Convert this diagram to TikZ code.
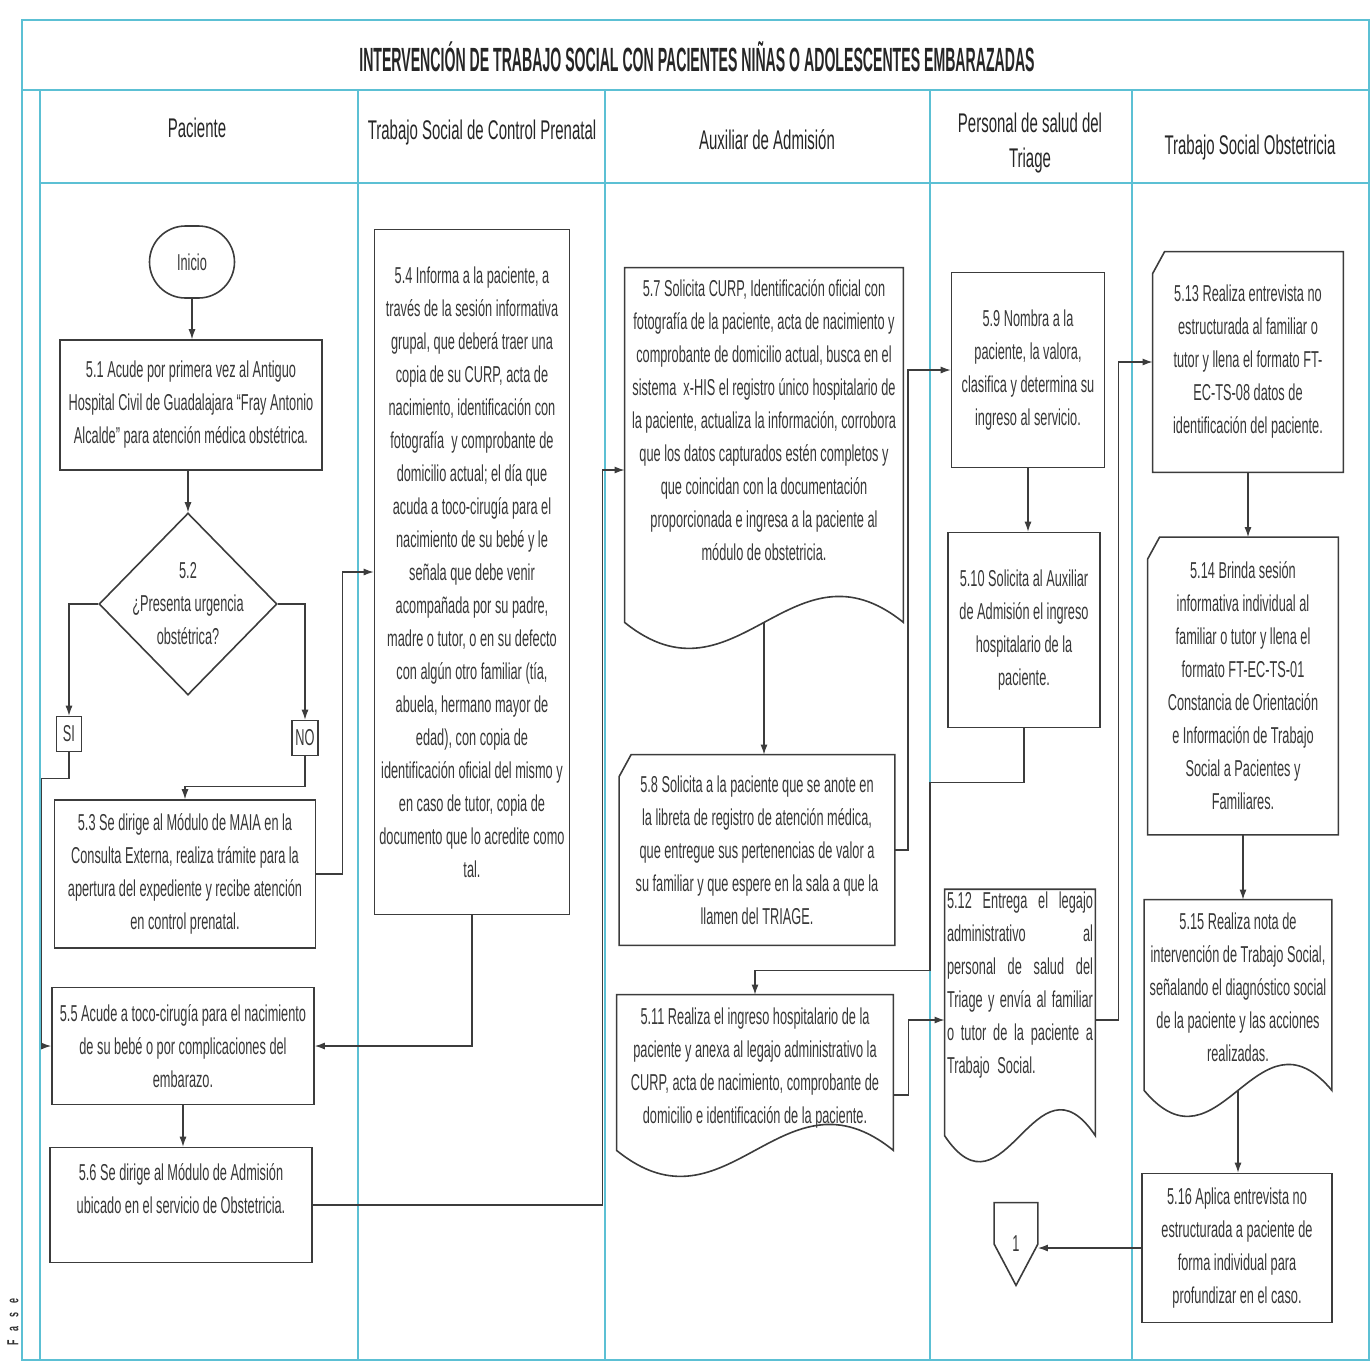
\documentclass[tikz,border=0pt]{standalone}
\usepackage{fontspec}
\setmainfont{Liberation Sans}[FakeStretch=0.555]
\newfontfamily\titlefont{Liberation Sans}[FakeStretch=0.42]
\usetikzlibrary{shapes.geometric,arrows.meta,calc}
\definecolor{lanecol}{RGB}{92,192,212}
\definecolor{linecol}{RGB}{60,60,60}
\definecolor{txtcol}{RGB}{55,55,55}
\newcommand{\bodyfont}{\fontsize{11.5pt}{16.5pt}\selectfont}
\newcommand{\headfont}{\fontsize{13.5pt}{17.5pt}\selectfont}
% document box: straight sides dropped by #2, wavy bottom, (#1-b) = middle of the wave
\newcommand{\docshape}[2]{%
 \draw[boxline] (#1.north west) -- (#1.north east) -- ([yshift=-#2]#1.south east)
  .. controls ($(#1.south west)!.6!(#1.south east)+(0pt,{45pt-#2})$)
  and ($(#1.south west)!.4!(#1.south east)+(0pt,{-45pt-#2})$)
  .. ([yshift=-#2]#1.south west) -- cycle;
 \coordinate (#1-b) at ([yshift=-#2]#1.south);}
% manual input box: cut top left corner
\newcommand{\manualshape}[1]{%
 \draw[boxline] ([yshift=-11pt]#1.north west) -- ([xshift=6pt]#1.north west)
  -- (#1.north east) -- (#1.south east) -- (#1.south west) -- cycle;}
\newcommand{\jline}[1]{\leavevmode\hbox to 73pt{#1}}

\begin{document}
\begin{tikzpicture}[x=0.5pt,y=-0.5pt,
 txt/.style={font=\bodyfont,text=txtcol,align=center,inner sep=1pt},
 box/.style={txt,draw=linecol,line width=0.8pt},
 boxline/.style={draw=linecol,line width=0.8pt},
 flow/.style={draw=linecol,line width=0.6pt,-{Latex[length=5pt,width=3.5pt]}},
 lane/.style={draw=lanecol,line width=1pt},
 head/.style={font=\headfont,text=black!85,align=center}]
 \useasboundingbox (0,0) rectangle (1372,1372);
 % frame and lanes
 \draw[lane] (22,20) rectangle (1369,1360);
 \draw[lane] (22,90) -- (1369,90);
 \draw[lane] (40,183) -- (1369,183);
 \foreach \x in {40,358,605,930,1132} \draw[lane] (\x,90) -- (\x,1360);
 \node[font={\titlefont\bfseries\fontsize{16.8pt}{18pt}\selectfont},text=black!85] (title) at (697,57)
  {INTERVENCIÓN DE TRABAJO SOCIAL CON PACIENTES NIÑAS O ADOLESCENTES EMBARAZADAS};
 \node[head] (hpac) at (197,128) {Paciente};
 \node[head] (hcpn) at (482,133) {Trabajo Social de Control Prenatal};
 \node[head] (hadm) at (767,140) {Auxiliar de Admisión};
 \node[head] (htri) at (1030,143) {Personal de salud del\\Triage};
 \node[head] (hobs) at (1250,148) {Trabajo Social Obstetricia};
 \node[font={\bfseries\fontsize{8pt}{9pt}\selectfont},text=black!80,rotate=90] (fase) at (13,1322)
  {F\hspace{4.5pt}a\hspace{4.5pt}s\hspace{4.5pt}e};
 % Paciente
 \node[box,rounded corners=18pt,minimum width=42.5pt,minimum height=36pt] (inicio) at (192,262) {Inicio};
 \node[box,minimum width=131pt,minimum height=65pt] (s51) at (191,405)
  {5.1 Acude por primera vez al Antiguo\\Hospital Civil de Guadalajara “Fray Antonio\\Alcalde” para atención médica obstétrica.};
 \node[boxline,shape=diamond,minimum width=89pt,minimum height=91pt,inner sep=0pt,
  label={[txt]center:{5.2\\¿Presenta urgencia\\obstétrica?}}] (s52) at (188,604) {};
 \node[box,minimum width=12.5pt,minimum height=17.5pt,inner sep=0pt] (si) at (69,734) {SI};
 \node[box,minimum width=13pt,minimum height=17.5pt,inner sep=0pt] (no) at (305,738) {NO};
 \node[box,minimum width=130.5pt,minimum height=74pt] (s53) at (185,874)
  {5.3 Se dirige al Módulo de MAIA en la\\Consulta Externa, realiza trámite para la\\apertura del expediente y recibe atención\\en control prenatal.};
 \node[box,minimum width=131pt,minimum height=58.5pt] (s55) at (183,1046)
  {5.5 Acude a toco-cirugía para el nacimiento\\de su bebé o por complicaciones del\\embarazo.};
 \node[box,minimum width=131pt,minimum height=57.5pt] (s56) at (181,1205)
  {5.6 Se dirige al Módulo de Admisión\\ubicado en el servicio de Obstetricia.\\\mbox{}};
 % Trabajo Social de Control Prenatal
 \node[box,minimum width=97.5pt,minimum height=342.5pt] (s54) at (472,572)
  {5.4 Informa a la paciente, a\\través de la sesión informativa\\grupal, que deberá traer una\\copia de su CURP, acta de\\nacimiento, identificación con\\fotografía\ \ y comprobante de\\domicilio actual; el día que\\acuda a toco-cirugía para el\\nacimiento de su bebé y le\\señala que debe venir\\acompañada por su padre,\\madre o tutor, o en su defecto\\con algún otro familiar (tía,\\abuela, hermano mayor de\\edad), con copia de\\identificación oficial del mismo y\\en caso de tutor, copia de\\documento que lo acredite como\\tal.};
 % Auxiliar de Admision
 \node[txt,minimum width=139pt,minimum height=152pt] (s57) at (764,420)
  {5.7 Solicita CURP, Identificación oficial con\\fotografía de la paciente, acta de nacimiento y\\comprobante de domicilio actual, busca en el\\sistema\ \ x-HIS el registro único hospitalario de\\la paciente, actualiza la información, corrobora\\que los datos capturados estén completos y\\que coincidan con la documentación\\proporcionada e ingresa a la paciente al\\módulo de obstetricia.};
 \docshape{s57}{25pt}
 \node[txt,minimum width=137.5pt,minimum height=95pt] (s58) at (757,850)
  {5.8 Solicita a la paciente que se anote en\\la libreta de registro de atención médica,\\que entregue sus pertenencias de valor a\\su familiar y que espere en la sala a que la\\llamen del TRIAGE.};
 \manualshape{s58}
 \node[txt,minimum width=138pt,minimum height=73pt] (s511) at (755,1068)
  {5.11 Realiza el ingreso hospitalario de la\\paciente y anexa al legajo administrativo la\\CURP, acta de nacimiento, comprobante de\\domicilio e identificación de la paciente.};
 \docshape{s511}{4.5pt}
 % Personal de salud del Triage
 \node[box,minimum width=76.5pt,minimum height=97.5pt] (s59) at (1028,370)
  {5.9 Nombra a la\\paciente, la valora,\\clasifica y determina su\\ingreso al servicio.};
 \node[box,minimum width=76pt,minimum height=97.5pt] (s510) at (1024,630)
  {5.10 Solicita al Auxiliar\\de Admisión el ingreso\\hospitalario de la\\paciente.};
 \node[txt,align=left,text width=73pt,inner xsep=1pt,minimum height=99pt] (s512) at (1020,999)
  {\jline{5.12\hfill Entrega\hfill el\hfill legajo}\\\jline{administrativo\hfill al}\\\jline{personal\hfill de\hfill salud\hfill del}\\\jline{Triage\hfill y\hfill envía\hfill al\hfill familiar}\\\jline{o\hfill tutor\hfill de\hfill la\hfill paciente\hfill a}\\Trabajo Social.\\\mbox{}};
 \docshape{s512}{13.5pt}
 \node[txt,minimum width=21.5pt,minimum height=41pt,inner sep=0pt] (con1) at (1016,1244) {1};
 \draw[boxline] (con1.north west) -- (con1.north east) -- (con1.east) -- (con1.south) -- (con1.west) -- cycle;
 % Trabajo Social Obstetricia
 \node[txt,minimum width=95pt,minimum height=110pt] (s513) at (1248,362)
  {5.13 Realiza entrevista no\\estructurada al familiar o\\tutor y llena el formato FT-\\EC-TS-08 datos de\\identificación del paciente.};
 \manualshape{s513}
 \node[txt,minimum width=95pt,minimum height=148.5pt] (s514) at (1243,686)
  {5.14 Brinda sesión\\informativa individual al\\familiar o tutor y llena el\\formato FT-EC-TS-01\\Constancia de Orientación\\e Información de Trabajo\\Social a Pacientes y\\Familiares.};
 \manualshape{s514}
 \node[txt,minimum width=93.5pt,minimum height=87pt] (s515) at (1238,987)
  {5.15 Realiza nota de\\intervención de Trabajo Social,\\señalando el diagnóstico social\\de la paciente y las acciones\\realizadas.};
 \docshape{s515}{8pt}
 \node[box,minimum width=95pt,minimum height=74.5pt] (s516) at (1237,1248)
  {5.16 Aplica entrevista no\\estructurada a paciente de\\forma individual para\\profundizar en el caso.};
 % connectors
 \draw[flow] (inicio.south) -- (inicio.south |- s51.north);
 \draw[flow] (s52.north |- s51.south) -- (s52.north);
 \draw[flow] (s52.west) -| (si.north);
 \draw[flow] (s52.east) -| (no.north);
 \draw[flow] (no.south) -- ++(0,30) -| (s53.north);
 \draw[flow] (si.south) -- ++(0,26) -| ([xshift=-5pt]s55.west) -- (s55.west);
 \draw[flow] (s53.east) -- ++(26,0) |- (s54.west);
 \draw[flow] (s54.south) |- (s55.east);
 \draw[flow] (s55.south) -- (s55.south |- s56.north);
 \draw[flow] (s56.east) -| ([xshift=-11pt,yshift=-25pt]s57.west) -- ([yshift=-25pt]s57.west);
 \draw[flow] (s57-b) -- (s57-b |- s58.north);
 \draw[flow] (s58.east) -- ++(13,0) |- (s59.west);
 \draw[flow] (s59.south) -- (s59.south |- s510.north);
 \draw[flow] (s510.south) -- ++(0,54) -- ++(-94,0) -- ++(0,188) -| (s511.north);
 \draw[flow] ([yshift=-13.5pt]s511.east) -- ++(15,0) |- ([yshift=-10.5pt]s512.west);
 \draw[flow] ([yshift=-10.5pt]s512.east) -- ++(23,0) |- (s513.west);
 \draw[flow] (s513.south) -- (s513.south |- s514.north);
 \draw[flow] (s514.south) -- (s514.south |- s515.north);
 \draw[flow] (s515-b) -- (s515-b |- s516.north);
 \draw[flow] (s516.west) -- (s516.west -| con1.east);
\end{tikzpicture}
\end{document}
